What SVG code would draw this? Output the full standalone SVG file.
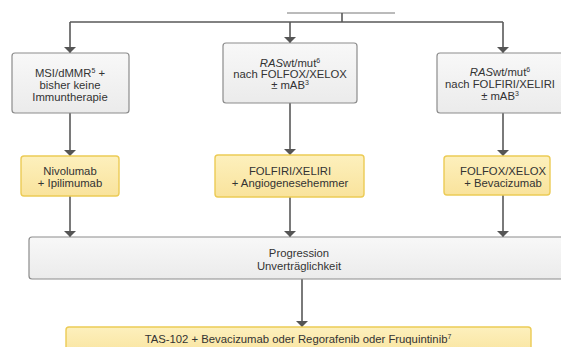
<svg xmlns="http://www.w3.org/2000/svg" width="561" height="347" viewBox="0 0 561 347">
<defs>
<linearGradient id="gg" x1="0" y1="0" x2="0" y2="1"><stop offset="0" stop-color="#f8f8f8"/><stop offset="1" stop-color="#ebebeb"/></linearGradient>
<linearGradient id="yg" x1="0" y1="0" x2="0" y2="1"><stop offset="0" stop-color="#fdf0bd"/><stop offset="1" stop-color="#f9e39c"/></linearGradient>
<marker id="ah" viewBox="0 0 6 12" markerWidth="6" markerHeight="12" refX="6" refY="6" orient="auto" markerUnits="userSpaceOnUse"><path d="M0,0 L6,6 L0,12 z" fill="#555"/></marker>
<style>
.g{fill:url(#gg);stroke:#8c8c8c;stroke-width:1.2}
.y{fill:url(#yg);stroke:#eccb55;stroke-width:1.4}
text{font-family:"Liberation Sans",Arial,sans-serif;font-size:11.3px;fill:#333;text-anchor:middle}
.c line{stroke:#595959;stroke-width:1.6}
.a{marker-end:url(#ah)}
.s{font-size:7px}
</style>
</defs>
<g class="c" id="connectors">
<line x1="287" y1="13" x2="395" y2="13" style="stroke:#777;stroke-width:1"/>
<line x1="342" y1="13" x2="342" y2="22"/>
<line x1="70" y1="22" x2="503" y2="22"/>
<line class="a" x1="70" y1="22" x2="70" y2="53"/>
<line class="a" x1="290" y1="22" x2="290" y2="43"/>
<line class="a" x1="503" y1="22" x2="503" y2="53"/>
<line class="a" x1="70" y1="113" x2="70" y2="156"/>
<line class="a" x1="290" y1="103" x2="290" y2="155"/>
<line class="a" x1="503" y1="113" x2="503" y2="156"/>
<line class="a" x1="70" y1="196" x2="70" y2="237"/>
<line class="a" x1="290" y1="197" x2="290" y2="237"/>
<line class="a" x1="503" y1="195" x2="503" y2="237"/>
<line class="a" x1="302" y1="279" x2="302" y2="327"/>
</g>
<g id="msi">
<rect class="g" x="12" y="53" width="117" height="60" rx="3"/>
<text x="70" y="77">MSI/dMMR<tspan class="s" dy="-4">5</tspan><tspan dy="4"> +</tspan></text>
<text x="70" y="89">bisher keine</text>
<text x="70" y="101">Immuntherapie</text>
</g>
<g id="ras1">
<rect class="g" x="223" y="43" width="134" height="60" rx="3"/>
<text x="290" y="67"><tspan font-style="italic">RAS</tspan>wt/mut<tspan class="s" dy="-4">6</tspan></text>
<text x="290" y="78">nach FOLFOX/XELOX</text>
<text x="290" y="89">± mAB<tspan class="s" dy="-4">3</tspan></text>
</g>
<g id="ras2">
<rect class="g" x="437" y="53" width="134" height="60" rx="3"/>
<text x="500" y="76"><tspan font-style="italic">RAS</tspan>wt/mut<tspan class="s" dy="-4">6</tspan></text>
<text x="500" y="88">nach FOLFIRI/XELIRI</text>
<text x="500" y="100">± mAB<tspan class="s" dy="-4">3</tspan></text>
</g>
<g id="nivo">
<rect class="y" x="21" y="156" width="98" height="40" rx="3"/>
<text x="70" y="175">Nivolumab</text>
<text x="70" y="187">+ Ipilimumab</text>
</g>
<g id="folfiri">
<rect class="y" x="215" y="155" width="149" height="42" rx="3"/>
<text x="290" y="175">FOLFIRI/XELIRI</text>
<text x="290" y="187">+ Angiogenesehemmer</text>
</g>
<g id="folfox">
<rect class="y" x="444" y="156" width="106" height="39" rx="3"/>
<text x="503" y="175">FOLFOX/XELOX</text>
<text x="503" y="187">+ Bevacizumab</text>
</g>
<g id="progression">
<rect class="g" x="29" y="237" width="545" height="42" rx="3"/>
<text x="299" y="257">Progression</text>
<text x="299" y="270">Unverträglichkeit</text>
</g>
<g id="tas">
<rect class="y" x="66" y="327" width="465" height="30" rx="3"/>
<text x="298" y="343">TAS-102 + Bevacizumab oder Regorafenib oder Fruquintinib<tspan class="s" dy="-4">7</tspan></text>
</g>
</svg>
